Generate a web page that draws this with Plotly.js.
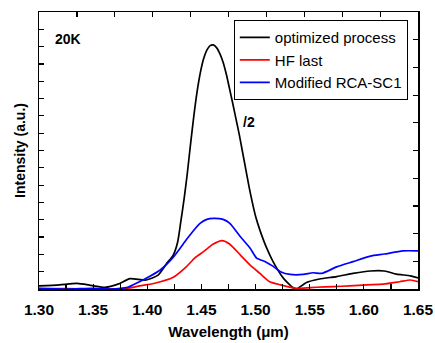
<!DOCTYPE html>
<html>
<head>
<meta charset="utf-8">
<script src="https://cdn.plot.ly/plotly-3.0.1.min.js"></script>
<style>html,body{margin:0;padding:0;background:#fff;}#chart{width:435px;height:343px;}</style>
</head>
<body>
<div id="chart"></div>
<script>
// Wavelength (µm) and intensity (a.u.)
const blackX = [1.300,1.319,1.335,1.349,1.361,1.373,1.384,1.399,1.410,1.418,1.424,1.428,1.431,1.434,1.437,1.440,1.443,1.446,1.449,1.452,1.455,1.458,1.461,1.464,1.467,1.470,1.473,1.476,1.479,1.482,1.485,1.488,1.491,1.494,1.497,1.500,1.504,1.510,1.516,1.526,1.535,1.538,1.547,1.559,1.575,1.590,1.606,1.619,1.630,1.643,1.650];
const blackY = [0.09,0.12,0.16,0.10,0.05,0.14,0.30,0.26,0.40,0.74,0.98,1.35,1.95,2.60,3.35,4.20,5.00,5.70,6.25,6.65,6.90,7.03,7.05,6.97,6.80,6.55,6.20,5.78,5.35,4.90,4.45,3.95,3.45,2.95,2.50,2.10,1.70,1.20,0.80,0.30,0.03,0.00,0.19,0.29,0.36,0.45,0.52,0.52,0.43,0.38,0.32];

const redX = [1.300,1.326,1.350,1.382,1.393,1.406,1.424,1.436,1.444,1.452,1.461,1.469,1.476,1.486,1.495,1.504,1.513,1.523,1.538,1.556,1.572,1.587,1.603,1.618,1.633,1.643,1.650];
const redY = [0.01,0.01,0.00,0.02,0.09,0.16,0.34,0.64,0.90,1.08,1.30,1.40,1.30,0.98,0.69,0.45,0.21,0.12,0.02,0.05,0.07,0.09,0.12,0.14,0.21,0.26,0.21];

const blueX = [1.300,1.326,1.350,1.366,1.382,1.387,1.399,1.412,1.424,1.436,1.442,1.449,1.455,1.461,1.470,1.476,1.486,1.495,1.501,1.509,1.516,1.523,1.532,1.544,1.553,1.561,1.575,1.590,1.606,1.619,1.636,1.650];
const blueY = [0.02,0.00,0.02,0.00,0.05,0.12,0.31,0.55,0.92,1.42,1.66,1.90,2.01,2.04,2.01,1.90,1.51,1.18,0.89,0.79,0.66,0.50,0.42,0.42,0.47,0.45,0.64,0.79,0.95,1.01,1.10,1.10];

const seriesNames = ["optimized process", "HF last", "Modified RCA-SC1"];
const seriesColors = ["#000000", "#ff0000", "#0000ff"];

const fam = "Liberation Sans, Arial, sans-serif";

const traces = [
  {x: blackX, y: blackY, name: seriesNames[0], type: "scatter", mode: "lines", line: {color: seriesColors[0], width: 1.7, shape: "spline", smoothing: 0.6}},
  {x: redX, y: redY, name: seriesNames[1], type: "scatter", mode: "lines", line: {color: seriesColors[1], width: 1.7, shape: "spline", smoothing: 0.6}},
  {x: blueX, y: blueY, name: seriesNames[2], type: "scatter", mode: "lines", line: {color: seriesColors[2], width: 1.7, shape: "spline", smoothing: 0.6}},
  {x: [], y: [], xaxis: "x2", yaxis: "y2", showlegend: false, hoverinfo: "skip", type: "scatter", mode: "lines"}
];

const layout = {
  width: 435, height: 343,
  margin: {l: 39, r: 17, t: 12, b: 54, pad: 0},
  paper_bgcolor: "#fff", plot_bgcolor: "#fff",
  showlegend: true,
  font: {family: fam, color: "#000"},
  xaxis: {
    range: [1.30, 1.65], dtick: 0.05, tickformat: ".2f",
    ticks: "inside", ticklen: 5, tickwidth: 1.2, tickcolor: "#000",
    minor: {dtick: 0.025, ticks: "inside", ticklen: 5, tickwidth: 1.2, tickcolor: "#000"},
    showline: true, linecolor: "#000", linewidth: 1.5, showgrid: false, zeroline: false,
    ticklabelstandoff: 6,
    tickfont: {family: fam, size: 15.5, weight: "bold", color: "#000"},
    title: {text: "Wavelength (μm)", font: {family: fam, size: 15, weight: "bold", color: "#000"}, standoff: 9}
  },
  yaxis: {
    range: [0, 8], dtick: 0.5,
    ticks: "inside", ticklen: 5, tickwidth: 1.2, tickcolor: "#000",
    showticklabels: false,
    showline: true, linecolor: "#000", linewidth: 1.5, showgrid: false, zeroline: false,
    title: {text: "Intensity (a.u.)", font: {family: fam, size: 14, weight: "bold", color: "#000"}, standoff: 8}
  },
  xaxis2: {
    overlaying: "x", side: "top", range: [0, 10], dtick: 1,
    ticks: "inside", ticklen: 5, tickwidth: 1.2, tickcolor: "#000",
    showticklabels: false, showline: true, linecolor: "#000", linewidth: 1.5, showgrid: false, zeroline: false
  },
  yaxis2: {
    overlaying: "y", side: "right", range: [0, 10], dtick: 1,
    ticks: "inside", ticklen: 5, tickwidth: 1.2, tickcolor: "#000",
    showticklabels: false, showline: true, linecolor: "#000", linewidth: 1.5, showgrid: false, zeroline: false
  },
  legend: {
    x: 0.514, y: 0.971, xanchor: "left", yanchor: "top",
    bgcolor: "#fff", bordercolor: "#000", borderwidth: 1,
    font: {family: fam, size: 15, color: "#000"},
    tracegroupgap: 0, itemwidth: 30
  },
  annotations: [
    {text: "20K", xref: "paper", yref: "paper", x: 0.038, y: 0.901, xanchor: "left", yanchor: "middle", showarrow: false, font: {family: fam, size: 14, weight: "bold", color: "#000"}},
    {text: "/2", xref: "x", yref: "paper", x: 1.4865, y: 0.604, xanchor: "left", yanchor: "middle", showarrow: false, font: {family: fam, size: 14, weight: "bold", color: "#000"}}
  ]
};

Plotly.newPlot("chart", traces, layout, {displayModeBar: false, staticPlot: true});
</script>
</body>
</html>
